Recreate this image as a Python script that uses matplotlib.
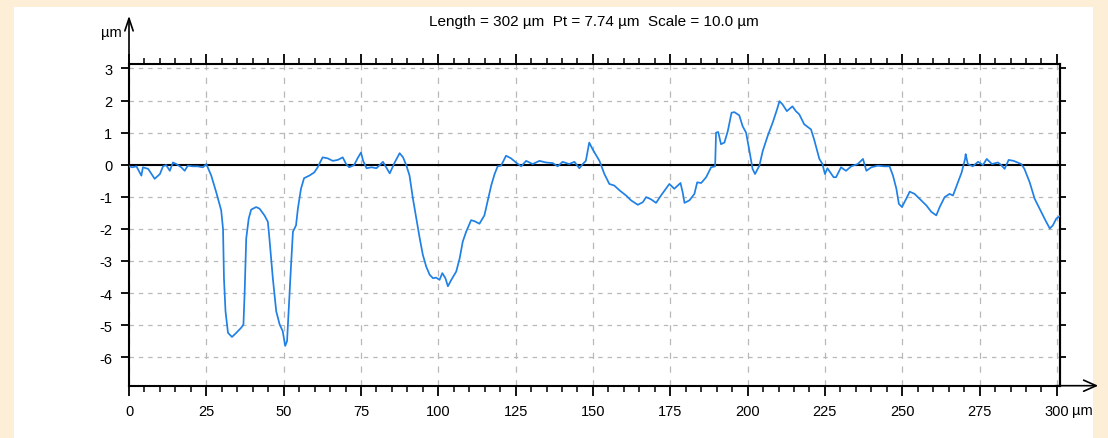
import matplotlib
matplotlib.use('Agg')
import matplotlib.pyplot as plt
from matplotlib.ticker import MultipleLocator
from matplotlib.patches import Rectangle

plt.rcParams['font.family'] = ['Liberation Sans', 'DejaVu Sans']
plt.rcParams['axes.unicode_minus'] = False

# profile, in pieces (position um, height um)
pos_a = [0, 1.1, 2.4, 4.0, 4.5, 6.2, 8.3, 10.0, 11.0, 12.0, 13.2, 14.2, 15.3, 16.9, 18.0,
         19.0, 20.6, 22.2, 23.9]
height_a = [-0.05, -0.08, -0.05, -0.34, -0.08, -0.13, -0.44, -0.29, -0.05, -0.01, -0.19,
            0.07, 0.02, -0.08, -0.19, -0.03, -0.05, -0.05, -0.08]

pos_b = [25.0, 26.6, 28.2, 29.8, 30.4, 30.7, 31.2, 32.0, 33.3, 34.7,
         36.3, 37.0, 37.4, 37.9, 38.7, 39.5, 41.1, 42.2, 43.8, 44.9,
         45.4, 46.5, 47.6, 48.7, 49.7, 50.5, 51.1, 51.6, 52.4, 53.0,
         54.0, 54.6, 55.6, 56.6, 58.3, 59.9, 61.0, 62.6, 64.2, 65.9,
         67.5, 69.1, 70.2, 71.2, 72.8, 73.9]
height_b = [0.02, -0.34, -0.86, -1.42, -2.0, -3.54, -4.57, -5.24, -5.37, -5.24,
            -5.08, -4.98, -3.95, -2.3, -1.68, -1.4, -1.32, -1.37, -1.58, -1.78,
            -2.3, -3.54, -4.57, -4.98, -5.19, -5.65, -5.5, -4.57, -3.12, -2.09,
            -1.89, -1.37, -0.75, -0.42, -0.34, -0.24, -0.08, 0.23, 0.2, 0.12,
            0.15, 0.23, 0.02, -0.08, -0.01, 0.2]

pos_c = [75.0, 75.7, 76.8, 78.4, 80.0, 82.1, 84.3, 85.9, 87.5, 88.6,
         89.7, 90.7, 91.8, 92.9, 94.0, 95.0, 96.1, 97.2, 98.3, 99.3,
         100.4, 101.3, 102.3, 103.1, 104.2, 105.8, 106.9, 107.9, 109.0, 110.6,
         111.7, 113.3, 114.9, 116.0, 117.1, 118.2, 119.2, 120.3, 121.9, 123.5,
         125.1, 126.8, 128.4, 130.5, 132.7, 134.8, 137.0, 138.6, 140.2, 142.3,
         144.0, 145.6, 146.7, 147.7, 148.8, 149.9]
height_c = [0.38, 0.12, -0.11, -0.08, -0.11, 0.09, -0.27, 0.07, 0.36, 0.23,
            -0.03, -0.34, -1.06, -1.68, -2.3, -2.81, -3.18, -3.43, -3.54, -3.52,
            -3.59, -3.38, -3.54, -3.79, -3.59, -3.33, -2.92, -2.4, -2.09, -1.73,
            -1.76, -1.84, -1.58, -1.11, -0.65, -0.29, -0.05, -0.03, 0.28, 0.2,
            0.07, -0.05, 0.12, 0.02, 0.12, 0.07, 0.05, -0.05, 0.09, 0.02,
            0.09, -0.11, 0.02, 0.12, 0.69, 0.48]

pos_d = [150.5, 152.1, 153.7, 155.3, 156.9, 158.6, 160.7, 162.3, 164.5, 166.1,
         167.2, 168.8, 170.4, 172.0, 173.6, 174.7, 176.3, 178.3, 179.0, 179.6,
         181.2, 182.8, 183.7, 185.0, 186.6, 188.2, 189.5, 189.8, 190.5, 191.4,
         192.5, 193.6, 194.8, 195.7, 197.3, 198.4, 199.5, 200.5, 201.6, 202.4,
         203.8, 204.9, 206.5, 208.1, 209.5, 210.3, 211.3, 212.7, 214.5, 215.6,
         216.7, 218.3, 220.5, 221.5, 223.2, 224.2, 225.0, 225.8]
height_d = [0.38, 0.12, -0.29, -0.6, -0.65, -0.8, -0.96, -1.11, -1.25, -1.17,
            -1.01, -1.08, -1.19, -0.96, -0.75, -0.6, -0.75, -0.57, -0.86, -1.19,
            -1.11, -0.91, -0.55, -0.57, -0.39, -0.08, -0.05, 1.0, 1.02, 0.64,
            0.69, 1.05, 1.62, 1.64, 1.54, 1.2, 1.0, 0.48, -0.13, -0.29,
            -0.03, 0.43, 0.9, 1.31, 1.72, 1.98, 1.88, 1.67, 1.82, 1.67,
            1.57, 1.26, 1.1, 0.79, 0.18, 0.02, -0.29, -0.11]

pos_e = [227.8, 228.6, 230.2, 231.8, 233.5, 235.6, 237.3, 238.4, 240.0, 242.1,
         244.2, 245.9, 247.0, 248.1, 248.9, 249.9, 251.3, 252.4, 254.0, 255.6,
         257.8, 259.4, 261.0, 262.1, 263.7, 265.3, 266.4, 267.6, 269.2, 270.3,
         270.5, 271.2, 272.8, 274.5, 276.1, 277.3, 279.0, 280.9, 282.0, 283.1,
         284.4, 286.0, 288.5, 289.5, 291.2, 292.8, 294.4, 296.0, 297.7, 298.7,
         299.8, 301.0]
height_e = [-0.39, -0.39, -0.08, -0.19, -0.05, 0.02, 0.18, -0.19, -0.08, -0.03,
            -0.05, -0.05, -0.34, -0.75, -1.22, -1.32, -1.06, -0.84, -0.91, -1.06,
            -1.27, -1.47, -1.58, -1.32, -1.01, -0.91, -0.96, -0.65, -0.24, 0.18,
            0.33, 0.02, -0.05, 0.09, -0.01, 0.18, 0.02, 0.07, -0.01, -0.13,
            0.15, 0.12, 0.02, -0.13, -0.55, -1.06, -1.37, -1.68, -1.99, -1.89,
            -1.68, -1.6]

pos_um = pos_a + pos_b + pos_c + pos_d + pos_e
height_um = height_a + height_b + height_c + height_d + height_e

x_ticks = [0, 25, 50, 75, 100, 125, 150, 175, 200, 225, 250, 275, 300]
x_tick_labels = ['0', '25', '50', '75', '100', '125', '150', '175', '200', '225', '250', '275', '300']
y_ticks = [3, 2, 1, 0, -1, -2, -3, -4, -5, -6]
title_text = 'Length = 302 \u00b5m  Pt = 7.74 \u00b5m  Scale = 10.0 \u00b5m'

fig = plt.figure(figsize=(11.08, 4.39), dpi=100)
fig.patch.set_facecolor('#fdeed8')
# white panel inside the peach frame, kept behind the axes
fig.patches.append(Rectangle((14 / 1108, 0), 1079 / 1108, 431 / 439,
                             transform=fig.transFigure, facecolor='white',
                             edgecolor='none', zorder=-5))

ax = fig.add_axes([129 / 1108, 1 - 386.7 / 439, 931 / 1108, 321.7 / 439])
ax.set_facecolor('white')

ax.plot(pos_um, height_um, color='#1f80e5', lw=1.25, zorder=3)
ax.axhline(0, color='black', lw=1.5, zorder=2)

ax.set_xlim(0, 301)
ax.set_ylim(-6.89, 3.14)

ax.set_xticks(x_ticks)
ax.set_xticklabels(x_tick_labels)
ax.xaxis.set_minor_locator(MultipleLocator(5))
ax.set_yticks(y_ticks)
ax.set_yticklabels([str(v) for v in y_ticks])

ax.tick_params(axis='x', which='major', direction='out', length=7, width=1.3,
               top=True, bottom=True, labelsize=10.5, pad=6, colors='black')
ax.tick_params(axis='x', which='minor', direction='out', length=4, width=1.1,
               top=True, bottom=True)
ax.tick_params(axis='y', which='major', direction='out', length=6, width=1.3,
               left=True, right=False, labelsize=10.5, pad=6)

# right-hand ticks, shorter, no labels
sec = ax.secondary_yaxis('right')
sec.set_yticks(y_ticks)
sec.tick_params(length=4, width=1.3, labelright=False)
sec.spines['right'].set_linewidth(1.5)

for side in ['left', 'top', 'bottom', 'right']:
    ax.spines[side].set_linewidth(1.5)

# dashed grid
for xv in x_ticks:
    ax.axvline(xv, color='#b8b8b8', lw=0.9, ls=(0, (5, 6)), zorder=1)
for yv in y_ticks:
    if yv != 0:
        ax.axhline(yv, color='#b8b8b8', lw=0.9, ls=(0, (3.5, 4)), zorder=1)

# axis arrows
ax.annotate('', xy=(0, 1.15), xycoords='axes fraction', xytext=(0, 0.99),
            arrowprops=dict(arrowstyle='->,head_length=0.9,head_width=0.3',
                            lw=1.2, color='black', shrinkA=0, shrinkB=0),
            annotation_clip=False)
ax.annotate('', xy=(1.041, 0), xycoords='axes fraction', xytext=(0.995, 0),
            arrowprops=dict(arrowstyle='->,head_length=0.9,head_width=0.4',
                            lw=1.2, color='black', shrinkA=0, shrinkB=0),
            annotation_clip=False)

ax.text(-0.0075, 1.10, '\u00b5m', transform=ax.transAxes, fontsize=10.5,
        ha='right', va='center')
ax.text(1.0125, -0.075, '\u00b5m', transform=ax.transAxes, fontsize=10.5,
        ha='left', va='center')

fig.text(594 / 1108, 1 - 22 / 439, title_text, fontsize=11, ha='center', va='center')

fig.savefig('out.png', dpi=100, facecolor=fig.get_facecolor())
